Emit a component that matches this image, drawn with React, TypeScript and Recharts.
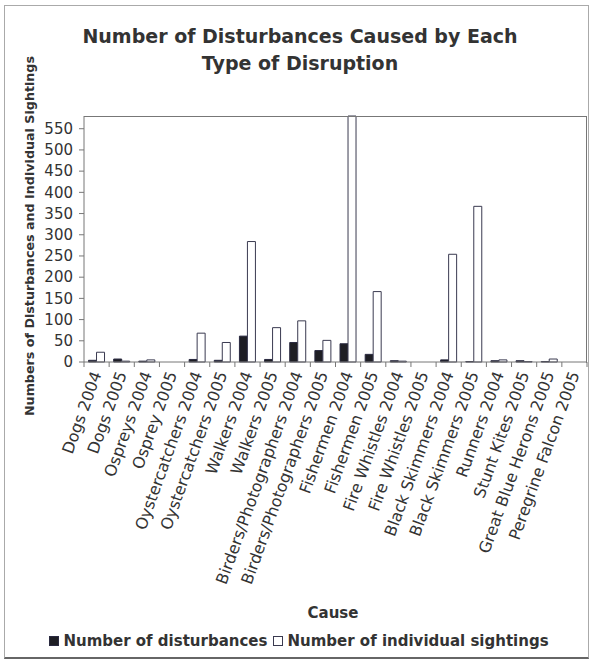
import React from 'react'
import { BarChart, Bar, XAxis, YAxis } from 'recharts'

const causes = [
    'Dogs 2004',
    'Dogs 2005',
    'Ospreys 2004',
    'Osprey 2005',
    'Oystercatchers 2004',
    'Oystercatchers 2005',
    'Walkers 2004',
    'Walkers 2005',
    'Birders/Photographers 2004',
    'Birders/Photographers 2005',
    'Fishermen 2004',
    'Fishermen 2005',
    'Fire Whistles 2004',
    'Fire Whistles 2005',
    'Black Skimmers 2004',
    'Black Skimmers 2005',
    'Runners 2004',
    'Stunt Kites 2005',
    'Great Blue Herons 2005',
    'Peregrine Falcon 2005',
]

const disturbances = [4, 7, 2, 0, 6, 4, 61, 6, 46, 27, 43, 18, 3, 0, 5, 1, 3, 3, 1, 0]
const sightings = [23, 2, 5, 0, 68, 46, 284, 81, 97, 51, 580, 166, 2, 0, 254, 367, 5, 1, 7, 0]

const yTicks = [0, 50, 100, 150, 200, 250, 300, 350, 400, 450, 500, 550]

const data = causes.map((cause, i) => ({
    cause,
    disturbances: disturbances[i],
    sightings: sightings[i],
}))

const W = 589
const H = 662
const PLOT_LEFT = 84
const PLOT_RIGHT = 587
const PLOT_TOP = 116
const PLOT_BOTTOM = 362
const STEP = (PLOT_RIGHT - PLOT_LEFT) / causes.length
const FONT = '"DejaVu Sans", Verdana, sans-serif'
const INK = '#333'
const AXIS = '#777'

// category label plus the Excel-style tick mark between categories
function CauseTick(props: any) {
    const { x, y, payload, index } = props
    const left = x - STEP / 2
    return (
        <g>
            <line x1={left} y1={y} x2={left} y2={y + 5} stroke={AXIS} />
            {index === causes.length - 1 && (
                <line x1={x + STEP / 2} y1={y} x2={x + STEP / 2} y2={y + 5} stroke={AXIS} />
            )}
            <text
                x={x}
                y={y + 10}
                transform={`rotate(-70, ${x}, ${y + 10})`}
                textAnchor="end"
                dy="0.35em"
                fontSize={16}
                fontFamily={FONT}
                fill={INK}
            >
                {payload.value}
            </text>
        </g>
    )
}

export default function App() {
    return (
        <div style={{ position: 'absolute', left: 0, top: 0, width: W, height: H, background: '#fff', fontFamily: FONT, color: INK }}>
            <div style={{ position: 'absolute', left: 4, top: 5, width: 583, height: 651, border: '1px solid #aaa', borderBottom: '2px solid #666' }} />
            <div style={{ position: 'absolute', left: 10, top: 23, width: 580, textAlign: 'center', fontWeight: 'bold', fontSize: 19, lineHeight: '27px' }}>
                Number of Disturbances Caused by Each
                <br />
                Type of Disruption
            </div>
            <div
                style={{
                    position: 'absolute',
                    left: 30 - 200,
                    top: 236 - 8,
                    width: 400,
                    height: 16,
                    lineHeight: '16px',
                    textAlign: 'center',
                    fontWeight: 'bold',
                    fontSize: 12.7,
                    transform: 'rotate(-90deg)',
                }}
            >
                Numbers of Disturbances and Individual Sightings
            </div>
            <div style={{ position: 'absolute', left: 233, top: 604, width: 200, textAlign: 'center', fontWeight: 'bold', fontSize: 15 }}>
                Cause
            </div>
            <div style={{ position: 'absolute', left: 0, top: 632, width: 598, display: 'flex', justifyContent: 'center', alignItems: 'center', fontWeight: 'bold', fontSize: 15, whiteSpace: 'nowrap' }}>
                <span style={{ display: 'inline-block', width: 8, height: 8, background: '#1e1e24', border: '1px solid #2a2a40', marginRight: 4 }} />
                Number of disturbances
                <span style={{ display: 'inline-block', width: 8, height: 8, background: '#fff', border: '1px solid #3a3a50', marginLeft: 6, marginRight: 4 }} />
                Number of individual sightings
            </div>
            <div style={{ position: 'absolute', left: 0, top: 0 }}>
                <BarChart
                    width={W}
                    height={H}
                    data={data}
                    margin={{ top: PLOT_TOP, right: W - PLOT_RIGHT, bottom: 0, left: PLOT_LEFT - 60 }}
                    barCategoryGap="18%"
                    barGap={0}
                >
                    <XAxis
                        dataKey="cause"
                        interval={0}
                        height={H - PLOT_BOTTOM}
                        tick={<CauseTick />}
                        tickLine={false}
                        tickSize={0}
                        tickMargin={0}
                        stroke={AXIS}
                    />
                    <YAxis
                        width={60}
                        domain={[0, 580]}
                        ticks={yTicks}
                        interval={0}
                        tickSize={5}
                        tickMargin={6}
                        stroke={AXIS}
                        tick={{ fill: INK, fontSize: 15, fontFamily: FONT }}
                    />
                    <Bar dataKey="disturbances" fill="#1e1e24" stroke="#2a2a40" strokeWidth={1} isAnimationActive={false} />
                    <Bar dataKey="sightings" fill="#fff" stroke="#3a3a50" strokeWidth={1} isAnimationActive={false} />
                </BarChart>
            </div>
            {/* plot area frame */}
            <div
                style={{
                    position: 'absolute',
                    left: PLOT_LEFT,
                    top: PLOT_TOP,
                    width: PLOT_RIGHT - PLOT_LEFT - 1,
                    height: PLOT_BOTTOM - PLOT_TOP,
                    borderTop: `1px solid ${AXIS}`,
                    borderRight: `1px solid ${AXIS}`,
                    pointerEvents: 'none',
                }}
            />
        </div>
    )
}
